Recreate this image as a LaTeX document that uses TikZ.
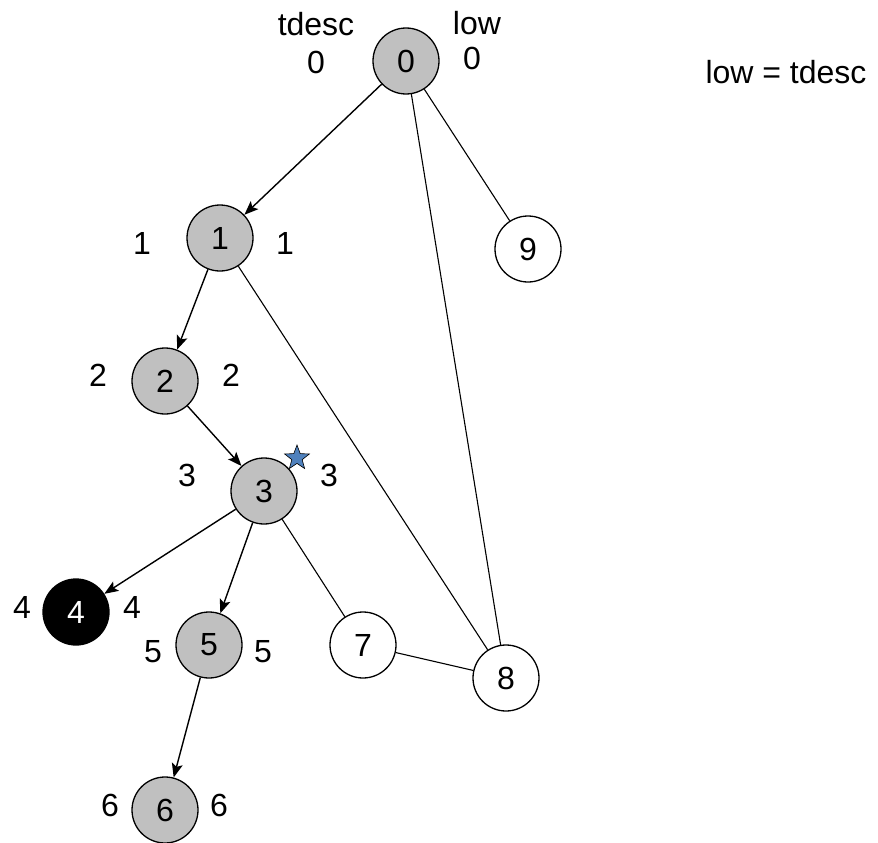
\documentclass[tikz,border=0pt]{standalone}
\usepackage{fontspec}
\setmainfont{Liberation Sans}
\usetikzlibrary{arrows.meta,shapes.geometric}
\definecolor{vgray}{RGB}{192,192,192}
\definecolor{starblue}{RGB}{79,129,189}
\begin{document}
\begin{tikzpicture}[x=1pt,y=-1pt,
  every node/.style={font=\fontsize{32}{38}\selectfont, inner sep=0pt},
  vtx/.style={circle, draw=black, line width=1.3pt, minimum size=66pt, fill=white},
  visited/.style={vtx, fill=vgray},
  current/.style={vtx, fill=black, text=white},
  lbl/.style={anchor=center},
  tree/.style={line width=1.4pt, -{Stealth[length=14pt,width=11pt,inset=3pt]}},
  back/.style={line width=1.1pt}]
\useasboundingbox (0,0) rectangle (878,843);

% vertices
\node[visited] (n0) at (406,61)  {0};
\node[visited] (n1) at (220,238) {1};
\node[vtx]     (n9) at (528,249) {9};
\node[visited] (n2) at (165,381) {2};
\node[visited] (n3) at (264,491) {3};
\node[current] (n4) at (76,612)  {4};
\node[visited] (n5) at (209,645) {5};
\node[vtx]     (n7) at (363,645) {7};
\node[vtx]     (n8) at (506,678) {8};
\node[visited] (n6) at (165,810) {6};

% tree edges
\draw[tree] (n0) -- (n1);
\draw[tree] (n1) -- (n2);
\draw[tree] (n2) -- (n3);
\draw[tree] (n3) -- (n4);
\draw[tree] (n3) -- (n5);
\draw[tree] (n5) -- (n6);

% remaining edges
\draw[back] (n0) -- (n9);
\draw[back] (n0) -- (n8);
\draw[back] (n1) -- (n8);
\draw[back] (n3) -- (n7);
\draw[back] (n7) -- (n8);

% column headings
\node[lbl] (htd) at (316,24) {tdesc};
\node[lbl] (hlow) at (477,23) {low};
\node[lbl] (note) at (786,72) {low = tdesc};

% tdesc / low values
\node[lbl] (t0) at (316,62) {0};
\node[lbl] (l0) at (472,58) {0};
\node[lbl] (t1) at (142,243) {1};
\node[lbl] (l1) at (285,243) {1};
\node[lbl] (t2) at (98,375) {2};
\node[lbl] (l2) at (231,375) {2};
\node[lbl] (t3) at (187,475) {3};
\node[lbl] (l3) at (329,475) {3};
\node[lbl] (t4) at (22,607) {4};
\node[lbl] (l4) at (132,607) {4};
\node[lbl] (t5) at (153,652) {5};
\node[lbl] (l5) at (263,652) {5};
\node[lbl] (t6) at (110,805) {6};
\node[lbl] (l6) at (219,805) {6};

% marker
\node[star, star points=5, star point ratio=2.4, minimum size=26pt,
      fill=starblue, draw=black, line width=0.6pt] (mk) at (297,458) {};
\end{tikzpicture}
\end{document}
